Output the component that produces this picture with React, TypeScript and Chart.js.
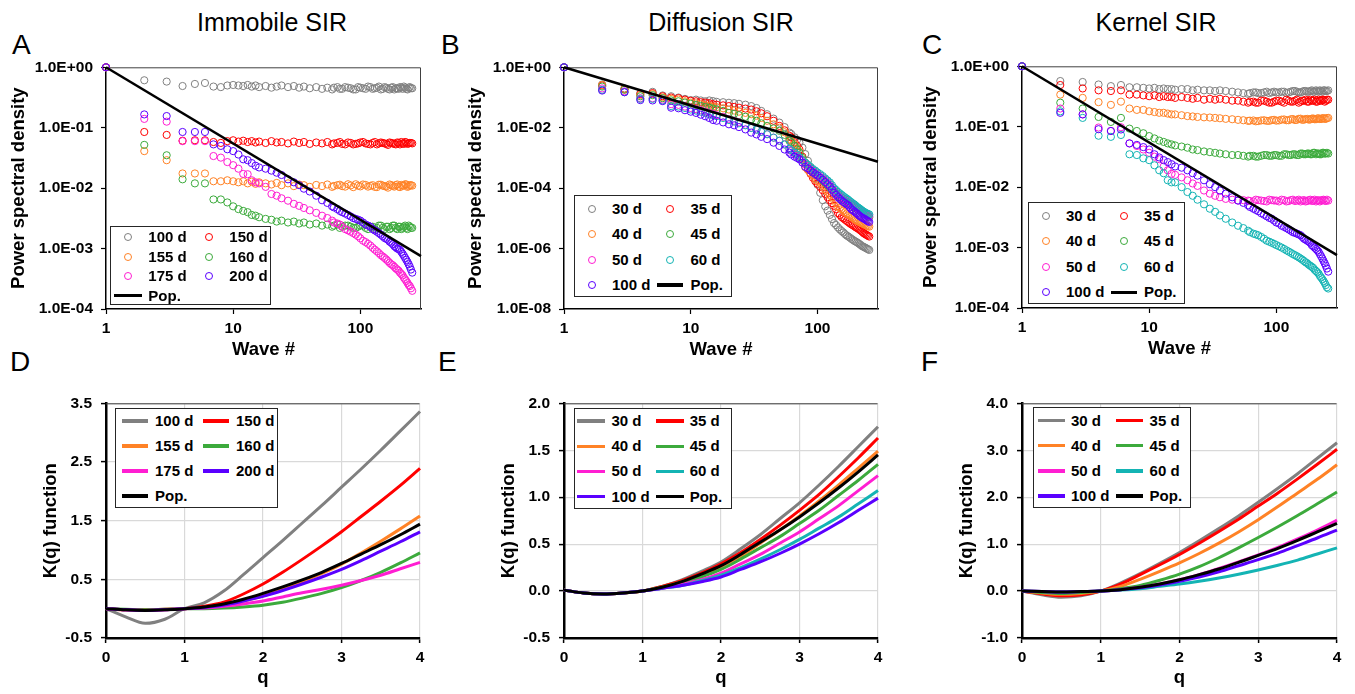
import React, { useEffect, useRef } from 'react';
import { Chart, registerables } from 'chart.js';

Chart.register(...registerables);

const FONT = "'Liberation Sans', Arial, sans-serif";
Chart.defaults.color = '#000';
Chart.defaults.font.family = FONT;

// ---------- colours ----------
const GRAY = '#808080';
const RED = '#ff0000';
const ORANGE = '#ff8226';
const GREEN = '#3caa3c';
const MAGENTA = '#ff1ed2';
const PURPLE = '#5a00ff';
const CYAN = '#14b4b4';
const BLACK = '#000000';

// ---------- top row: power spectral density ----------
const WAVES = [1, 2, 3, 4, 5, 6, 7, 8, 9, 10, 11, 12, 13, 14, 15, 16, 18, 20, 22, 24, 27, 30, 33, 36, 40, 45, 50, 55, 60, 66, 72, 80, 88, 96, 105, 115, 125, 135, 145, 155, 165, 175, 185, 195, 205, 215, 225, 235, 245, 256];
const WAVES_TAIL = [62, 69, 76, 84, 92, 100, 110, 120, 130, 140, 150, 160, 170, 180, 190, 200, 210, 220, 230, 240, 250];
const WAVE_TICKS = [1, 10, 100];
const PSD_TICKS_4 = [1, 1e-1, 1e-2, 1e-3, 1e-4];
const PSD_TICKS_8 = [1, 1e-2, 1e-4, 1e-6, 1e-8];
const POP_WAVES = [1, 300];
const POP_PSD = [1, 7.5e-4];

// Panel A: Immobile SIR
const A_100D = [1.0, 0.61, 0.58, 0.49, 0.53, 0.55, 0.48, 0.47, 0.50, 0.51, 0.50, 0.49, 0.51, 0.48, 0.50, 0.47, 0.49, 0.46, 0.48, 0.50, 0.47, 0.49, 0.46, 0.48, 0.45, 0.47, 0.44, 0.46, 0.43, 0.47, 0.44, 0.46, 0.43, 0.47, 0.45, 0.48, 0.44, 0.46, 0.43, 0.47, 0.44, 0.46, 0.43, 0.45, 0.47, 0.44, 0.46, 0.43, 0.47, 0.45];
const A_100D_TAIL = [0.46, 0.44, 0.47, 0.45, 0.43, 0.46, 0.44, 0.47, 0.45, 0.48, 0.44, 0.46, 0.43, 0.47, 0.45, 0.44, 0.46, 0.48, 0.44, 0.46, 0.45];
const A_150D = [1.0, 0.085, 0.076, 0.061, 0.062, 0.062, 0.058, 0.056, 0.060, 0.062, 0.059, 0.061, 0.058, 0.060, 0.057, 0.059, 0.056, 0.060, 0.057, 0.058, 0.055, 0.059, 0.056, 0.058, 0.054, 0.057, 0.055, 0.058, 0.053, 0.056, 0.054, 0.057, 0.053, 0.055, 0.058, 0.054, 0.056, 0.053, 0.057, 0.055, 0.052, 0.056, 0.054, 0.057, 0.053, 0.055, 0.058, 0.054, 0.056, 0.055];
const A_150D_TAIL = [0.055, 0.058, 0.053, 0.056, 0.054, 0.057, 0.055, 0.053, 0.058, 0.055, 0.056, 0.054, 0.057, 0.055, 0.053, 0.056, 0.058, 0.054, 0.057, 0.055, 0.056];
const A_155D = [1.0, 0.041, 0.029, 0.0175, 0.0175, 0.0175, 0.013, 0.013, 0.0135, 0.013, 0.0125, 0.013, 0.012, 0.0128, 0.0118, 0.0125, 0.012, 0.0115, 0.0122, 0.0112, 0.012, 0.0108, 0.0115, 0.0112, 0.0105, 0.0113, 0.0108, 0.0115, 0.0105, 0.0112, 0.0108, 0.0116, 0.0104, 0.011, 0.0115, 0.0106, 0.0112, 0.0104, 0.0114, 0.0108, 0.0102, 0.0112, 0.0106, 0.0115, 0.0104, 0.011, 0.0116, 0.0105, 0.0112, 0.011];
const A_155D_TAIL = [0.0109, 0.0114, 0.0106, 0.0111, 0.0116, 0.0107, 0.0113, 0.0109, 0.0105, 0.0114, 0.011, 0.0107, 0.0115, 0.0109, 0.0112, 0.0106, 0.0113, 0.011, 0.0115, 0.0108, 0.0112];
const A_160D = [1.0, 0.052, 0.035, 0.014, 0.012, 0.012, 0.0065, 0.0065, 0.0058, 0.005, 0.0045, 0.0042, 0.004, 0.0036, 0.0035, 0.0033, 0.0031, 0.003, 0.0028, 0.0029, 0.0027, 0.0028, 0.0026, 0.0027, 0.0025, 0.0026, 0.0024, 0.0025, 0.0023, 0.0025, 0.0023, 0.0024, 0.0022, 0.0023, 0.0024, 0.0021, 0.0023, 0.0022, 0.0024, 0.0021, 0.0023, 0.0022, 0.0024, 0.0021, 0.0023, 0.0022, 0.0024, 0.0021, 0.0023, 0.0022];
const A_160D_TAIL = [0.0024, 0.0022, 0.0024, 0.0023, 0.0022, 0.0024, 0.0022, 0.0023, 0.0021, 0.0024, 0.0022, 0.0023, 0.0021, 0.0024, 0.0022, 0.0023, 0.0021, 0.0023, 0.0022, 0.0024, 0.0022];
const A_175D = [1.0, 0.14, 0.126, 0.06, 0.06, 0.06, 0.034, 0.032, 0.027, 0.024, 0.021, 0.0172, 0.017, 0.0135, 0.0125, 0.012, 0.0105, 0.008, 0.0075, 0.0068, 0.0062, 0.0055, 0.0051, 0.0047, 0.0043, 0.0039, 0.0035, 0.0032, 0.0029, 0.0026, 0.0023, 0.002, 0.0018, 0.0016, 0.00135, 0.0012, 0.00103, 0.0009, 0.00078, 0.0007, 0.00062, 0.00055, 0.0005, 0.00045, 0.0004, 0.00036, 0.00031, 0.00027, 0.00024, 0.0002];
const A_175D_TAIL = [0.0027, 0.0025, 0.0021, 0.0019, 0.0017, 0.00148, 0.00128, 0.00112, 0.00096, 0.00084, 0.00074, 0.00066, 0.00058, 0.00053, 0.00047, 0.00043, 0.00038, 0.00033, 0.00029, 0.00025, 0.00022];
const A_200D = [1.0, 0.166, 0.156, 0.085, 0.085, 0.085, 0.053, 0.05, 0.044, 0.041, 0.036, 0.03, 0.029, 0.026, 0.0235, 0.022, 0.021, 0.0195, 0.018, 0.0165, 0.014, 0.0125, 0.0112, 0.0098, 0.0088, 0.0075, 0.0063, 0.0057, 0.005, 0.0045, 0.004, 0.0036, 0.0032, 0.003, 0.0027, 0.0024, 0.0021, 0.0019, 0.0017, 0.0015, 0.0014, 0.00125, 0.0011, 0.001, 0.00095, 0.00082, 0.0007, 0.0006, 0.0005, 0.0004];
const A_200D_TAIL = [0.0048, 0.0042, 0.0038, 0.0034, 0.0031, 0.0029, 0.0025, 0.0023, 0.002, 0.0018, 0.0016, 0.00145, 0.0013, 0.00118, 0.00105, 0.00098, 0.00088, 0.00076, 0.00065, 0.00055, 0.00045];

// Panel B: Diffusion SIR
const B_30D = [1.0, 0.27, 0.2, 0.14, 0.154, 0.117, 0.11, 0.1, 0.09, 0.082, 0.085, 0.08, 0.075, 0.08, 0.076, 0.072, 0.07, 0.067, 0.065, 0.062, 0.058, 0.052, 0.045, 0.036, 0.028, 0.02, 0.0148, 0.0105, 0.0069, 0.0048, 0.0032, 0.00134, 0.0005, 0.0002, 7e-5, 2.5e-5, 1.3e-5, 7e-6, 5e-6, 3.8e-6, 3e-6, 2.5e-6, 2.1e-6, 1.8e-6, 1.6e-6, 1.4e-6, 1.2e-6, 1.1e-6, 1e-6, 9e-7];
const B_30D_TAIL = [0.0062, 0.004, 0.0022, 0.0008, 0.00032, 0.00013, 4e-5, 1.8e-5, 9.5e-6, 6e-6, 4.3e-6, 3.4e-6, 2.7e-6, 2.3e-6, 1.95e-6, 1.7e-6, 1.5e-6, 1.3e-6, 1.15e-6, 1.05e-6, 9.5e-7];
const B_35D = [1.0, 0.25, 0.19, 0.13, 0.14, 0.11, 0.1, 0.095, 0.085, 0.078, 0.075, 0.07, 0.068, 0.065, 0.06, 0.058, 0.055, 0.052, 0.049, 0.046, 0.043, 0.04, 0.035, 0.03, 0.024, 0.017, 0.0115, 0.0082, 0.0054, 0.0033, 0.0019, 0.00063, 0.0003, 0.00017, 1.1e-4, 6.5e-5, 4e-5, 2.6e-5, 1.5e-5, 1.1e-5, 9e-6, 7.5e-6, 6.3e-6, 5.5e-6, 4.8e-6, 4.2e-6, 3.6e-6, 3.1e-6, 2.8e-6, 2.5e-6];
const B_35D_TAIL = [0.0048, 0.0025, 0.0011, 0.00042, 0.00022, 1.4e-4, 8.5e-5, 5e-5, 3.2e-5, 2e-5, 1.3e-5, 1e-5, 8.2e-6, 6.8e-6, 5.9e-6, 5.1e-6, 4.5e-6, 3.9e-6, 3.3e-6, 2.95e-6, 2.65e-6];
const B_40D = [1.0, 0.26, 0.19, 0.12, 0.13, 0.1, 0.09, 0.085, 0.075, 0.068, 0.064, 0.06, 0.056, 0.053, 0.05, 0.048, 0.044, 0.04, 0.037, 0.034, 0.031, 0.028, 0.025, 0.021, 0.017, 0.013, 0.01, 0.0071, 0.0042, 0.0028, 0.0016, 0.00049, 0.00032, 0.0002, 1.5e-4, 9e-5, 6e-5, 4e-5, 2.5e-5, 2e-5, 1.6e-5, 1.35e-5, 1.15e-5, 9.5e-6, 8.3e-6, 7.5e-6, 6.8e-6, 6.3e-6, 5.8e-6, 5.3e-6];
const B_40D_TAIL = [0.0038, 0.0021, 0.0009, 0.0004, 0.00026, 1.75e-4, 1.2e-4, 7.5e-5, 5e-5, 3.2e-5, 2.2e-5, 1.8e-5, 1.45e-5, 1.25e-5, 1.05e-5, 8.9e-6, 7.9e-6, 7.1e-6, 6.5e-6, 6e-6, 5.5e-6];
const B_45D = [1.0, 0.23, 0.18, 0.11, 0.12, 0.095, 0.08, 0.075, 0.068, 0.062, 0.057, 0.053, 0.049, 0.046, 0.043, 0.04, 0.036, 0.031, 0.029, 0.026, 0.023, 0.019, 0.017, 0.014, 0.0115, 0.0095, 0.0079, 0.0058, 0.0037, 0.0025, 0.0015, 0.0007, 0.00045, 0.0003, 2.2e-4, 1.5e-4, 1.05e-4, 8e-5, 5.8e-5, 4.7e-5, 3.8e-5, 3.2e-5, 2.7e-5, 2.3e-5, 2e-5, 1.75e-5, 1.55e-5, 1.4e-5, 1.25e-5, 1.1e-5];
const B_45D_TAIL = [0.0033, 0.0019, 0.001, 0.00055, 0.00037, 2.6e-4, 1.8e-4, 1.25e-4, 9e-5, 6.8e-5, 5.2e-5, 4.2e-5, 3.5e-5, 2.9e-5, 2.5e-5, 2.15e-5, 1.85e-5, 1.65e-5, 1.48e-5, 1.32e-5, 1.18e-5];
const B_50D = [1.0, 0.2, 0.16, 0.095, 0.095, 0.085, 0.06, 0.057, 0.05, 0.045, 0.041, 0.038, 0.034, 0.031, 0.029, 0.026, 0.023, 0.019, 0.017, 0.015, 0.0125, 0.01, 0.0088, 0.0074, 0.0061, 0.0047, 0.0037, 0.0028, 0.0019, 0.0014, 0.00098, 0.00063, 0.00045, 0.00035, 2.6e-4, 1.9e-4, 1.35e-4, 9e-5, 6.5e-5, 5e-5, 4.2e-5, 3.5e-5, 3e-5, 2.6e-5, 2.2e-5, 1.9e-5, 1.7e-5, 1.5e-5, 1.35e-5, 1.2e-5];
const B_50D_TAIL = [0.0017, 0.0012, 0.0008, 0.00054, 0.0004, 3e-4, 2.2e-4, 1.6e-4, 1.1e-4, 7.7e-5, 5.7e-5, 4.6e-5, 3.8e-5, 3.2e-5, 2.8e-5, 2.4e-5, 2.05e-5, 1.8e-5, 1.6e-5, 1.42e-5, 1.28e-5];
const B_60D = [1.0, 0.18, 0.15, 0.09, 0.09, 0.08, 0.052, 0.05, 0.045, 0.04, 0.037, 0.034, 0.031, 0.028, 0.026, 0.024, 0.021, 0.018, 0.016, 0.014, 0.012, 0.0098, 0.0086, 0.0073, 0.0061, 0.0047, 0.0037, 0.0028, 0.002, 0.0015, 0.00105, 0.0007, 0.0005, 0.00038, 2.9e-4, 2.1e-4, 1.55e-4, 1e-4, 7.5e-5, 6e-5, 4.9e-5, 4.1e-5, 3.4e-5, 2.9e-5, 2.4e-5, 2.1e-5, 1.8e-5, 1.6e-5, 1.45e-5, 1.35e-5];
const B_60D_TAIL = [0.0018, 0.0013, 0.00085, 0.0006, 0.00043, 3.3e-4, 2.5e-4, 1.8e-4, 1.25e-4, 8.7e-5, 6.7e-5, 5.4e-5, 4.5e-5, 3.7e-5, 3.1e-5, 2.65e-5, 2.25e-5, 1.95e-5, 1.7e-5, 1.52e-5, 1.4e-5];
const B_100D = [1.0, 0.17, 0.15, 0.082, 0.08, 0.076, 0.046, 0.044, 0.038, 0.034, 0.031, 0.027, 0.024, 0.021, 0.018, 0.017, 0.015, 0.013, 0.012, 0.0105, 0.0088, 0.0069, 0.006, 0.005, 0.0042, 0.0032, 0.0025, 0.0019, 0.0015, 0.0011, 0.0009, 0.00051, 0.00038, 0.00029, 2.2e-4, 1.6e-4, 1.15e-4, 7e-5, 5e-5, 3.9e-5, 3.2e-5, 2.7e-5, 2e-5, 1.7e-5, 1.45e-5, 1.2e-5, 1.05e-5, 9.5e-6, 8.5e-6, 7.6e-6];
const B_100D_TAIL = [0.0013, 0.001, 0.0007, 0.00045, 0.00033, 2.6e-4, 1.9e-4, 1.35e-4, 9e-5, 6e-5, 4.4e-5, 3.5e-5, 2.9e-5, 2.3e-5, 1.85e-5, 1.55e-5, 1.3e-5, 1.12e-5, 1e-5, 9e-6, 8e-6];

// Panel C: Kernel SIR
const C_30D = [1.0, 0.57, 0.55, 0.5, 0.47, 0.49, 0.45, 0.45, 0.44, 0.43, 0.44, 0.42, 0.43, 0.42, 0.42, 0.41, 0.42, 0.42, 0.40, 0.41, 0.40, 0.40, 0.39, 0.40, 0.39, 0.38, 0.37, 0.36, 0.35, 0.37, 0.36, 0.37, 0.36, 0.38, 0.37, 0.38, 0.37, 0.39, 0.38, 0.37, 0.39, 0.38, 0.39, 0.38, 0.40, 0.38, 0.39, 0.40, 0.39, 0.40];
const C_30D_TAIL = [0.36, 0.37, 0.36, 0.38, 0.37, 0.37, 0.38, 0.36, 0.38, 0.39, 0.37, 0.38, 0.39, 0.38, 0.40, 0.38, 0.39, 0.40, 0.38, 0.40, 0.39];
const C_35D = [1.0, 0.49, 0.43, 0.40, 0.39, 0.40, 0.34, 0.34, 0.33, 0.32, 0.33, 0.31, 0.32, 0.31, 0.31, 0.30, 0.31, 0.30, 0.29, 0.30, 0.28, 0.29, 0.28, 0.29, 0.28, 0.27, 0.27, 0.26, 0.25, 0.26, 0.25, 0.27, 0.25, 0.26, 0.27, 0.25, 0.27, 0.26, 0.28, 0.26, 0.27, 0.26, 0.28, 0.27, 0.26, 0.28, 0.27, 0.28, 0.27, 0.28];
const C_35D_TAIL = [0.26, 0.25, 0.27, 0.26, 0.25, 0.27, 0.26, 0.28, 0.26, 0.27, 0.25, 0.27, 0.28, 0.26, 0.27, 0.28, 0.26, 0.27, 0.28, 0.26, 0.28];
const C_40D = [1.0, 0.34, 0.30, 0.255, 0.23, 0.26, 0.20, 0.19, 0.19, 0.18, 0.175, 0.17, 0.17, 0.165, 0.16, 0.16, 0.155, 0.15, 0.148, 0.145, 0.143, 0.142, 0.14, 0.138, 0.135, 0.133, 0.13, 0.128, 0.125, 0.127, 0.124, 0.128, 0.125, 0.13, 0.127, 0.132, 0.128, 0.134, 0.13, 0.136, 0.131, 0.135, 0.132, 0.137, 0.133, 0.138, 0.134, 0.139, 0.135, 0.14];
const C_40D_TAIL = [0.126, 0.123, 0.127, 0.125, 0.129, 0.126, 0.131, 0.128, 0.133, 0.129, 0.135, 0.13, 0.134, 0.131, 0.136, 0.133, 0.137, 0.134, 0.138, 0.135, 0.139];
const C_45D = [1.0, 0.25, 0.20, 0.145, 0.12, 0.14, 0.093, 0.085, 0.078, 0.07, 0.064, 0.059, 0.056, 0.053, 0.051, 0.049, 0.047, 0.045, 0.042, 0.041, 0.039, 0.038, 0.037, 0.036, 0.035, 0.034, 0.034, 0.033, 0.032, 0.033, 0.032, 0.034, 0.033, 0.034, 0.033, 0.035, 0.034, 0.035, 0.034, 0.036, 0.035, 0.036, 0.035, 0.037, 0.035, 0.036, 0.035, 0.037, 0.036, 0.036];
const C_45D_TAIL = [0.033, 0.032, 0.033, 0.034, 0.033, 0.034, 0.033, 0.035, 0.034, 0.035, 0.034, 0.036, 0.035, 0.036, 0.035, 0.037, 0.036, 0.035, 0.037, 0.036, 0.037];
const C_50D = [1.0, 0.20, 0.16, 0.097, 0.085, 0.098, 0.053, 0.048, 0.042, 0.037, 0.032, 0.029, 0.022, 0.019, 0.0166, 0.016, 0.0145, 0.013, 0.0115, 0.0105, 0.0088, 0.0078, 0.0072, 0.0068, 0.0064, 0.0062, 0.006, 0.0061, 0.006, 0.0058, 0.0061, 0.0059, 0.0062, 0.006, 0.0058, 0.0061, 0.0059, 0.0062, 0.006, 0.0058, 0.0061, 0.0059, 0.0062, 0.006, 0.0058, 0.0061, 0.006, 0.0062, 0.0059, 0.006];
const C_50D_TAIL = [0.0059, 0.0062, 0.006, 0.0058, 0.0061, 0.006, 0.0062, 0.0058, 0.0061, 0.0059, 0.0062, 0.006, 0.0058, 0.0061, 0.0059, 0.0062, 0.006, 0.0058, 0.0061, 0.006, 0.0062];
const C_60D = [1.0, 0.18, 0.14, 0.071, 0.068, 0.073, 0.035, 0.034, 0.03, 0.028, 0.023, 0.019, 0.017, 0.013, 0.012, 0.012, 0.01, 0.0083, 0.0072, 0.0062, 0.0052, 0.0044, 0.0039, 0.0034, 0.003, 0.0026, 0.0023, 0.0021, 0.0019, 0.0017, 0.0016, 0.0014, 0.00125, 0.00115, 0.00105, 0.00095, 0.00086, 0.00078, 0.00072, 0.00066, 0.0006, 0.00055, 0.0005, 0.00046, 0.00041, 0.00037, 0.00032, 0.00028, 0.00024, 0.00021];
const C_60D_TAIL = [0.0018, 0.00165, 0.0015, 0.0013, 0.0012, 0.0011, 0.001, 0.0009, 0.00082, 0.00075, 0.00069, 0.00063, 0.00057, 0.00052, 0.00048, 0.00043, 0.00039, 0.00034, 0.0003, 0.00026, 0.00022];
const C_100D = [1.0, 0.17, 0.16, 0.091, 0.085, 0.09, 0.053, 0.05, 0.046, 0.042, 0.035, 0.031, 0.028, 0.026, 0.024, 0.022, 0.021, 0.019, 0.017, 0.0155, 0.013, 0.0112, 0.01, 0.0088, 0.0078, 0.0068, 0.006, 0.0055, 0.005, 0.0044, 0.004, 0.0035, 0.0031, 0.0028, 0.0025, 0.0022, 0.002, 0.0018, 0.0017, 0.0016, 0.0014, 0.0013, 0.0012, 0.00105, 0.00095, 0.00085, 0.00072, 0.0006, 0.0005, 0.0004];
const C_100D_TAIL = [0.0047, 0.0042, 0.0037, 0.0033, 0.003, 0.0026, 0.0023, 0.0021, 0.0019, 0.00175, 0.00165, 0.0015, 0.00135, 0.00125, 0.0011, 0.001, 0.0009, 0.00078, 0.00066, 0.00055, 0.00045];

// ---------- bottom row: K(q) functions ----------
const Q = [0, 0.25, 0.5, 0.75, 1, 1.25, 1.5, 1.75, 2, 2.25, 2.5, 2.75, 3, 3.25, 3.5, 3.75, 4];
const Q_TICKS = [0, 1, 2, 3, 4];
const D_TICKS = [-0.5, 0.5, 1.5, 2.5, 3.5];
const E_TICKS = [-0.5, 0, 0.5, 1, 1.5, 2];
const F_TICKS = [-1, 0, 1, 2, 3, 4];

const D_100D = [0, -0.14, -0.25, -0.18, 0, 0.10, 0.30, 0.58, 0.87, 1.16, 1.46, 1.76, 2.07, 2.38, 2.70, 3.03, 3.36];
const D_150D = [0, -0.02, -0.02, -0.01, 0, 0.04, 0.11, 0.25, 0.42, 0.62, 0.84, 1.07, 1.31, 1.57, 1.83, 2.10, 2.39];
const D_155D = [0, -0.02, -0.03, -0.02, 0, 0.02, 0.06, 0.13, 0.22, 0.33, 0.46, 0.60, 0.76, 0.95, 1.15, 1.36, 1.58];
const D_160D = [0, -0.01, -0.02, -0.01, 0, 0, 0.01, 0.03, 0.06, 0.11, 0.18, 0.26, 0.36, 0.48, 0.62, 0.78, 0.95];
const D_175D = [0, -0.02, -0.03, -0.02, 0, 0.01, 0.04, 0.08, 0.13, 0.20, 0.27, 0.33, 0.40, 0.48, 0.57, 0.68, 0.79];
const D_200D = [0, -0.02, -0.03, -0.02, 0, 0.02, 0.06, 0.13, 0.21, 0.31, 0.42, 0.54, 0.67, 0.82, 0.98, 1.14, 1.31];
const D_POP = [0, -0.02, -0.03, -0.02, 0, 0.03, 0.08, 0.16, 0.26, 0.37, 0.49, 0.62, 0.77, 0.93, 1.09, 1.26, 1.44];

const E_30D = [0.01, -0.02, -0.03, -0.02, 0, 0.05, 0.12, 0.21, 0.31, 0.45, 0.60, 0.77, 0.94, 1.13, 1.33, 1.54, 1.75];
const E_35D = [0.01, -0.02, -0.03, -0.02, 0, 0.05, 0.11, 0.19, 0.29, 0.41, 0.55, 0.70, 0.86, 1.03, 1.22, 1.42, 1.63];
const E_40D = [0.01, -0.02, -0.03, -0.02, 0, 0.04, 0.10, 0.17, 0.26, 0.37, 0.51, 0.65, 0.80, 0.96, 1.13, 1.31, 1.49];
const E_45D = [0.01, -0.02, -0.03, -0.02, 0, 0.04, 0.09, 0.15, 0.23, 0.34, 0.46, 0.58, 0.72, 0.86, 1.02, 1.18, 1.35];
const E_50D = [0.01, -0.02, -0.03, -0.02, 0, 0.03, 0.07, 0.12, 0.19, 0.29, 0.39, 0.51, 0.63, 0.77, 0.91, 1.07, 1.23];
const E_60D = [0.01, -0.02, -0.03, -0.02, 0, 0.03, 0.06, 0.11, 0.17, 0.25, 0.34, 0.44, 0.55, 0.67, 0.79, 0.93, 1.07];
const E_100D = [0.01, -0.02, -0.03, -0.02, 0, 0.03, 0.06, 0.10, 0.15, 0.23, 0.31, 0.40, 0.50, 0.61, 0.73, 0.86, 0.99];
const E_POP = [0.01, -0.02, -0.03, -0.02, 0, 0.04, 0.10, 0.18, 0.27, 0.39, 0.52, 0.65, 0.79, 0.94, 1.10, 1.27, 1.45];

const F_30D = [0, -0.08, -0.13, -0.10, 0, 0.17, 0.37, 0.59, 0.82, 1.07, 1.33, 1.60, 1.89, 2.19, 2.50, 2.83, 3.16];
const F_35D = [0, -0.06, -0.10, -0.08, 0, 0.15, 0.35, 0.56, 0.78, 1.02, 1.27, 1.53, 1.81, 2.09, 2.39, 2.70, 3.02];
const F_40D = [0, -0.04, -0.07, -0.05, 0, 0.10, 0.25, 0.42, 0.60, 0.80, 1.02, 1.26, 1.52, 1.80, 2.09, 2.38, 2.69];
const F_45D = [0, -0.03, -0.05, -0.03, 0, 0.05, 0.12, 0.23, 0.36, 0.52, 0.71, 0.92, 1.14, 1.37, 1.61, 1.86, 2.11];
const F_50D = [0, -0.01, -0.02, -0.01, 0, 0.03, 0.08, 0.15, 0.24, 0.35, 0.48, 0.62, 0.77, 0.93, 1.11, 1.30, 1.51];
const F_60D = [0, -0.01, -0.02, -0.01, 0, 0.02, 0.05, 0.10, 0.15, 0.21, 0.28, 0.36, 0.45, 0.55, 0.66, 0.79, 0.92];
const F_100D = [0, -0.01, -0.02, -0.01, 0, 0.03, 0.07, 0.13, 0.21, 0.30, 0.41, 0.54, 0.67, 0.81, 0.97, 1.13, 1.30];
const F_POP = [0, -0.01, -0.02, -0.01, 0, 0.03, 0.08, 0.15, 0.24, 0.35, 0.47, 0.61, 0.76, 0.91, 1.08, 1.26, 1.44];

type Series = { label: string; color: string; values: number[]; tail?: number[] };

const SERIES_A: Series[] = [
  { label: '100 d', color: GRAY, values: A_100D, tail: A_100D_TAIL },
  { label: '150 d', color: RED, values: A_150D, tail: A_150D_TAIL },
  { label: '155 d', color: ORANGE, values: A_155D, tail: A_155D_TAIL },
  { label: '160 d', color: GREEN, values: A_160D, tail: A_160D_TAIL },
  { label: '175 d', color: MAGENTA, values: A_175D, tail: A_175D_TAIL },
  { label: '200 d', color: PURPLE, values: A_200D, tail: A_200D_TAIL },
];
const SERIES_B: Series[] = [
  { label: '30 d', color: GRAY, values: B_30D, tail: B_30D_TAIL },
  { label: '35 d', color: RED, values: B_35D, tail: B_35D_TAIL },
  { label: '40 d', color: ORANGE, values: B_40D, tail: B_40D_TAIL },
  { label: '45 d', color: GREEN, values: B_45D, tail: B_45D_TAIL },
  { label: '50 d', color: MAGENTA, values: B_50D, tail: B_50D_TAIL },
  { label: '60 d', color: CYAN, values: B_60D, tail: B_60D_TAIL },
  { label: '100 d', color: PURPLE, values: B_100D, tail: B_100D_TAIL },
];
const SERIES_C: Series[] = [
  { label: '30 d', color: GRAY, values: C_30D, tail: C_30D_TAIL },
  { label: '35 d', color: RED, values: C_35D, tail: C_35D_TAIL },
  { label: '40 d', color: ORANGE, values: C_40D, tail: C_40D_TAIL },
  { label: '45 d', color: GREEN, values: C_45D, tail: C_45D_TAIL },
  { label: '50 d', color: MAGENTA, values: C_50D, tail: C_50D_TAIL },
  { label: '60 d', color: CYAN, values: C_60D, tail: C_60D_TAIL },
  { label: '100 d', color: PURPLE, values: C_100D, tail: C_100D_TAIL },
];
const SERIES_D: Series[] = [
  { label: '100 d', color: GRAY, values: D_100D },
  { label: '150 d', color: RED, values: D_150D },
  { label: '155 d', color: ORANGE, values: D_155D },
  { label: '160 d', color: GREEN, values: D_160D },
  { label: '175 d', color: MAGENTA, values: D_175D },
  { label: '200 d', color: PURPLE, values: D_200D },
  { label: 'Pop.', color: BLACK, values: D_POP },
];
const SERIES_E: Series[] = [
  { label: '30 d', color: GRAY, values: E_30D },
  { label: '35 d', color: RED, values: E_35D },
  { label: '40 d', color: ORANGE, values: E_40D },
  { label: '45 d', color: GREEN, values: E_45D },
  { label: '50 d', color: MAGENTA, values: E_50D },
  { label: '60 d', color: CYAN, values: E_60D },
  { label: '100 d', color: PURPLE, values: E_100D },
  { label: 'Pop.', color: BLACK, values: E_POP },
];
const SERIES_F: Series[] = [
  { label: '30 d', color: GRAY, values: F_30D },
  { label: '35 d', color: RED, values: F_35D },
  { label: '40 d', color: ORANGE, values: F_40D },
  { label: '45 d', color: GREEN, values: F_45D },
  { label: '50 d', color: MAGENTA, values: F_50D },
  { label: '60 d', color: CYAN, values: F_60D },
  { label: '100 d', color: PURPLE, values: F_100D },
  { label: 'Pop.', color: BLACK, values: F_POP },
];

// ---------- helpers ----------
const sciLabel = (v: number) => {
  const e = Math.round(Math.log10(v));
  return `1.0E${e < 0 ? '-' : '+'}${String(Math.abs(e)).padStart(2, '0')}`;
};

const framePlugin = {
  id: 'frame',
  beforeDatasetsDraw(chart: any, _args: any, opts: any) {
    const { ctx, chartArea: a } = chart;
    ctx.save();
    ctx.strokeStyle = opts.color || '#404040';
    ctx.lineWidth = 1;
    ctx.beginPath();
    ctx.moveTo(a.left, a.top + 0.5);
    ctx.lineTo(a.right - 0.5, a.top + 0.5);
    if (opts.right) ctx.lineTo(a.right - 0.5, a.bottom);
    ctx.stroke();
    ctx.restore();
  },
};

const tickFont = (size: number) => ({ family: FONT, size, weight: 'bold' as const });
const titleFont = { family: FONT, size: 18.5, weight: 'bold' as const };

function psdConfig(series: Series[], yMin: number, yTicks: number[], yWidth: number): any {
  const n = series.length;
  const datasets: any[] = series.map((s, i) => ({
    label: s.label,
    data: [
      ...WAVES.map((w, j) => ({ x: w, y: s.values[j] })),
      ...(s.tail ? WAVES_TAIL.map((w, j) => ({ x: w, y: s.tail![j] })) : []),
    ],
    showLine: false,
    pointRadius: 3.6,
    pointBorderWidth: 1,
    pointBorderColor: s.color,
    pointBackgroundColor: 'rgba(0,0,0,0)',
    borderColor: s.color,
    backgroundColor: 'rgba(0,0,0,0)',
    order: n - i + 1,
    clip: false,
  }));
  datasets.push({
    label: 'Pop.',
    data: POP_WAVES.map((w, j) => ({ x: w, y: POP_PSD[j] })),
    showLine: true,
    borderColor: BLACK,
    borderWidth: 2.5,
    pointRadius: 0,
    order: 0,
    clip: false,
  });
  return {
    type: 'scatter',
    data: { datasets },
    options: {
      responsive: false,
      animation: false,
      events: [],
      layout: { padding: { top: 16, right: 12, left: 0, bottom: 0 } },
      plugins: { legend: { display: false }, tooltip: { enabled: false }, frame: { color: '#404040', right: true } },
      scales: {
        x: {
          type: 'logarithmic',
          min: 1,
          max: 300,
          afterBuildTicks: (s: any) => { s.ticks = WAVE_TICKS.map((v) => ({ value: v })); },
          afterFit: (s: any) => { s.height = 56; },
          ticks: { autoSkip: false, maxRotation: 0, padding: 5, color: '#000', font: tickFont(15.5), callback: (v: any) => String(v) },
          grid: { drawOnChartArea: false, drawTicks: true, tickLength: 5, color: '#000', tickWidth: 1.2 },
          border: { color: '#000', width: 1.5 },
          title: { display: true, text: 'Wave #', color: '#000', font: titleFont, padding: { top: 4, bottom: 4 } },
        },
        y: {
          type: 'logarithmic',
          min: yMin,
          max: 1,
          afterBuildTicks: (s: any) => { s.ticks = yTicks.map((v) => ({ value: v })); },
          afterFit: (s: any) => { s.width = yWidth; },
          ticks: { autoSkip: false, padding: 8, color: '#000', font: tickFont(15.5), callback: (v: any) => sciLabel(Number(v)) },
          grid: { drawOnChartArea: false, drawTicks: true, tickLength: 5, color: '#000', tickWidth: 1.2 },
          border: { color: '#000', width: 1.5 },
          title: { display: true, text: 'Power spectral density', color: '#000', font: titleFont, padding: { top: 8, bottom: 4 } },
        },
      },
    },
    plugins: [framePlugin],
  };
}

function kConfig(series: Series[], yMin: number, yMax: number, yTicks: number[]): any {
  const n = series.length;
  const datasets = series.map((s, i) => ({
    label: s.label,
    data: Q.map((q, j) => ({ x: q, y: s.values[j] })),
    showLine: true,
    borderColor: s.color,
    backgroundColor: s.color,
    borderWidth: 3,
    pointRadius: 0,
    cubicInterpolationMode: 'monotone',
    order: s.label === 'Pop.' ? 0 : n - i,
    clip: false,
  }));
  return {
    type: 'scatter',
    data: { datasets },
    options: {
      responsive: false,
      animation: false,
      events: [],
      layout: { padding: { top: 12, right: 12, left: 0, bottom: 0 } },
      plugins: { legend: { display: false }, tooltip: { enabled: false }, frame: { color: '#404040', right: false } },
      scales: {
        x: {
          type: 'linear',
          min: 0,
          max: 4,
          afterBuildTicks: (s: any) => { s.ticks = Q_TICKS.map((v) => ({ value: v })); },
          afterFit: (s: any) => { s.height = 55; },
          ticks: { autoSkip: false, maxRotation: 0, padding: 5, color: '#000', font: tickFont(15.5), callback: (v: any) => String(v) },
          grid: { drawOnChartArea: true, drawTicks: true, tickLength: 5, color: '#d9d9d9', tickColor: '#000', lineWidth: 1.2, tickWidth: 1.5 },
          border: { color: '#000', width: 2.5 },
          title: { display: true, text: 'q', color: '#000', font: titleFont, padding: { top: 4, bottom: 4 } },
        },
        y: {
          type: 'linear',
          min: yMin,
          max: yMax,
          afterBuildTicks: (s: any) => { s.ticks = yTicks.map((v) => ({ value: v })); },
          afterFit: (s: any) => { s.width = 74; },
          ticks: { autoSkip: false, padding: 9, color: '#000', font: tickFont(15.5), callback: (v: any) => Number(v).toFixed(1) },
          grid: { drawOnChartArea: true, drawTicks: true, tickLength: 5, color: '#d9d9d9', tickColor: '#000', lineWidth: 1.2, tickWidth: 1.5 },
          border: { color: '#000', width: 2.5 },
          title: { display: true, text: 'K(q) function', color: '#000', font: titleFont, padding: { top: 8, bottom: 4 } },
        },
      },
    },
    plugins: [framePlugin],
  };
}

function PanelChart({ x, y, w, h, make }: { x: number; y: number; w: number; h: number; make: () => any }) {
  const ref = useRef<HTMLCanvasElement | null>(null);
  useEffect(() => {
    if (!ref.current) return;
    const chart = new Chart(ref.current, make());
    return () => chart.destroy();
  }, []);
  return <canvas ref={ref} width={w} height={h} style={{ position: 'absolute', left: x, top: y, width: w, height: h }} />;
}

type LegendGeom = {
  left: number; top: number; width: number; height: number;
  row0: number; rowGap: number;
  mark: [number, number]; text: [number, number]; lineStart: [number, number]; lineLen: number;
};
type LegendItem = { label: string; color: string; kind: 'circle' | 'line' };

function Legend({ g, items }: { g: LegendGeom; items: LegendItem[] }) {
  return (
    <div style={{ position: 'absolute', left: g.left, top: g.top, width: g.width, height: g.height, boxSizing: 'border-box', border: '1px solid #262626', background: '#fff' }}>
      {items.map((it, i) => {
        const col = i % 2;
        const row = Math.floor(i / 2);
        const cy = g.row0 + row * g.rowGap - 1;
        const els: React.ReactNode[] = [];
        if (it.kind === 'circle') {
          els.push(<div key="m" style={{ position: 'absolute', left: g.mark[col] - 1 - 4, top: cy - 4, width: 8, height: 8, boxSizing: 'border-box', border: `1.1px solid ${it.color}`, borderRadius: '50%' }} />);
        } else {
          els.push(<div key="l" style={{ position: 'absolute', left: g.lineStart[col] - 1, top: cy - 1.65, width: g.lineLen, height: 3.3, background: it.color }} />);
        }
        els.push(
          <div key="t" style={{ position: 'absolute', left: g.text[col] - 1, top: cy - 10, height: 20, lineHeight: '20px', fontSize: 15, fontWeight: 'bold', whiteSpace: 'nowrap', fontFamily: FONT }}>{it.label}</div>
        );
        return <React.Fragment key={i}>{els}</React.Fragment>;
      })}
    </div>
  );
}

const circleItems = (s: Series[]): LegendItem[] => [
  ...s.map((x) => ({ label: x.label, color: x.color, kind: 'circle' as const })),
  { label: 'Pop.', color: BLACK, kind: 'line' as const },
];
const lineItems = (s: Series[]): LegendItem[] => s.map((x) => ({ label: x.label, color: x.color, kind: 'line' as const }));

function Label({ text, left, baseline, size, bold, center }: { text: string; left: number; baseline: number; size: number; bold?: boolean; center?: boolean }) {
  const top = baseline - size * 0.8465;
  const style: React.CSSProperties = {
    position: 'absolute', top, fontSize: size, lineHeight: `${size}px`, fontFamily: FONT,
    fontWeight: bold ? 'bold' : 'normal', whiteSpace: 'nowrap', color: '#000',
  };
  if (center) {
    style.left = left - 150;
    style.width = 300;
    style.textAlign = 'center';
  } else {
    style.left = left;
  }
  return <div style={style}>{text}</div>;
}

export default function App() {
  return (
    <div style={{ position: 'absolute', left: 0, top: 0, width: 1355, height: 694, background: '#fff', overflow: 'hidden', fontFamily: FONT }}>
      <Label text="Immobile SIR" left={272} baseline={31} size={25} center />
      <Label text="Diffusion SIR" left={721} baseline={31} size={25} center />
      <Label text="Kernel SIR" left={1156} baseline={31} size={25} center />
      <Label text="A" left={12} baseline={55} size={28} />
      <Label text="B" left={441} baseline={55} size={28} />
      <Label text="C" left={922} baseline={55} size={28} />
      <Label text="D" left={10} baseline={372} size={28} />
      <Label text="E" left={438} baseline={372} size={28} />
      <Label text="F" left={921} baseline={372} size={28} />

      <PanelChart x={0} y={50} w={433} h={315} make={() => psdConfig(SERIES_A, 1e-4, PSD_TICKS_4, 106)} />
      <PanelChart x={457} y={50} w={433} h={315} make={() => psdConfig(SERIES_B, 1e-8, PSD_TICKS_8, 107)} />
      <PanelChart x={912} y={49} w={437} h={315} make={() => psdConfig(SERIES_C, 1e-4, PSD_TICKS_4, 110)} />
      <PanelChart x={32} y={385} w={400} h={308} make={() => kConfig(SERIES_D, -0.5, 3.5, D_TICKS)} />
      <PanelChart x={490} y={385} w={400} h={308} make={() => kConfig(SERIES_E, -0.5, 2.0, E_TICKS)} />
      <PanelChart x={948} y={385} w={401} h={308} make={() => kConfig(SERIES_F, -1.0, 4.0, F_TICKS)} />

      <Legend items={circleItems(SERIES_A)} g={{ left: 110, top: 226, width: 161, height: 79, row0: 11.3, rowGap: 19.4, mark: [18.3, 99.3], text: [38.3, 119.3], lineStart: [4.3, 85], lineLen: 27.4 }} />
      <Legend items={circleItems(SERIES_B)} g={{ left: 574, top: 195, width: 158, height: 102, row0: 14, rowGap: 25.3, mark: [18, 95.7], text: [38, 116.4], lineStart: [4, 83], lineLen: 26 }} />
      <Legend items={circleItems(SERIES_C)} g={{ left: 1028, top: 202, width: 157, height: 102, row0: 14, rowGap: 25.4, mark: [18, 96], text: [38, 116], lineStart: [4, 83], lineLen: 26 }} />
      <Legend items={lineItems(SERIES_D)} g={{ left: 115, top: 408, width: 163, height: 100, row0: 13, rowGap: 25, mark: [0, 0], text: [40, 121], lineStart: [6.7, 87.7], lineLen: 26.6 }} />
      <Legend items={lineItems(SERIES_E)} g={{ left: 574, top: 408, width: 158, height: 101, row0: 13, rowGap: 25.2, mark: [0, 0], text: [37.4, 115.7], lineStart: [3.4, 82.4], lineLen: 27.3 }} />
      <Legend items={lineItems(SERIES_F)} g={{ left: 1033, top: 407, width: 158, height: 101, row0: 13.5, rowGap: 25.2, mark: [0, 0], text: [38, 116.6], lineStart: [4.6, 83.3], lineLen: 27 }} />
    </div>
  );
}
